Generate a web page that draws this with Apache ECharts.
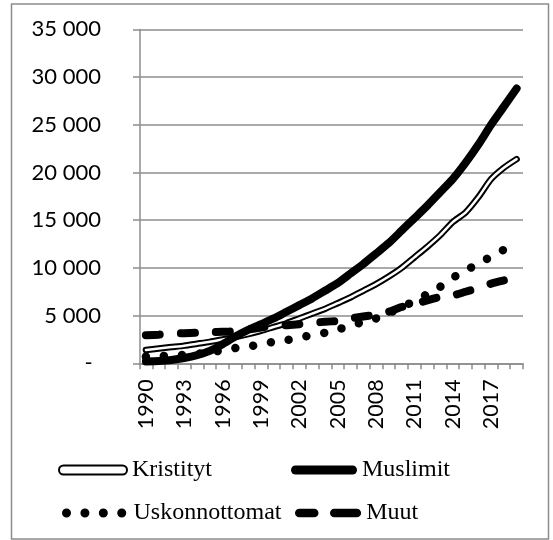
<!DOCTYPE html>
<html lang="fi">
<head>
    <meta charset="UTF-8">
    <title>Uskonnot</title>
    <script src="https://cdn.jsdelivr.net/npm/echarts@6/dist/echarts.min.js"></script>
    <style>
        html, body { margin: 0; padding: 0; background: #fff; }
        #main { width: 553px; height: 540px; }
    </style>
</head>
<body>
<div id="main"></div>
<script>
    // vuodet 1990-2019
    var years = ['1990', '1991', '1992', '1993', '1994', '1995', '1996', '1997', '1998', '1999',
        '2000', '2001', '2002', '2003', '2004', '2005', '2006', '2007', '2008', '2009',
        '2010', '2011', '2012', '2013', '2014', '2015', '2016', '2017', '2018', '2019'];

    var kristityt = [1400, 1550, 1700, 1850, 2050, 2250, 2500, 2750, 3050, 3400,
        3800, 4200, 4700, 5200, 5700, 6300, 6900, 7600, 8300, 9100,
        10000, 11100, 12200, 13400, 14800, 15800, 17400, 19300, 20500, 21400];

    var muslimit = [200, 250, 350, 550, 850, 1300, 2000, 2800, 3500, 4100,
        4700, 5400, 6100, 6800, 7600, 8400, 9400, 10400, 11500, 12600,
        13900, 15200, 16500, 17900, 19300, 21000, 22900, 25000, 26900, 28800];

    var uskonnottomat = [700, 750, 800, 900, 1000, 1100, 1400, 1600, 1750, 2000,
        2250, 2420, 2700, 2950, 3200, 3550, 3900, 4350, 4700, 5250,
        5900, 6500, 7250, 8000, 8950, 9750, 10400, 11200, 11900, 12400];

    var muut = [2950, 3000, 3100, 3150, 3200, 3250, 3300, 3350, 3550, 3750,
        3900, 4000, 4100, 4250, 4350, 4450, 4700, 4900, 5100, 5400,
        5900, 6200, 6600, 6950, 7100, 7500, 7900, 8350, 8700, 9100];

    var myChart = echarts.init(document.getElementById('main'));

    var legendText = { fontFamily: 'Liberation Serif', fontSize: 24, color: '#000' };

    // 35000 -> "35 000", 0 -> "-"
    function fmt(v) {
        if (v === 0) return '-\u2009 ';
        return String(v).replace(/\B(?=(\d{3})+(?!\d))/g, ' ');
    }

    var option = {
        animation: false,
        backgroundColor: '#fff',
        graphic: [{
            type: 'rect',
            shape: { x: 11.5, y: 4, width: 537, height: 535 },
            style: { fill: 'none', stroke: '#8c8c8c', lineWidth: 1.5 },
            silent: true
        }],
        grid: { left: 139.5, right: 30, top: 29.4, bottom: 176.7 },
        legend: [
            {
                left: 53, top: 453, itemWidth: 68, itemHeight: 9, textStyle: legendText,
                symbolKeepAspect: false,
                data: [{
                    name: 'Kristityt',
                    icon: 'path://M4.5,0 H63.5 A4.5,4.5 0 0 1 63.5,9 H4.5 A4.5,4.5 0 0 1 4.5,0 Z',
                    itemStyle: { color: '#fff', borderColor: '#000', borderWidth: 2 }
                }]
            },
            {
                left: 286, top: 453, itemWidth: 66, itemHeight: 9, textStyle: legendText,
                symbolKeepAspect: false,
                data: [{
                    name: 'Muslimit',
                    icon: 'path://M4.5,0 H61.5 A4.5,4.5 0 0 1 61.5,9 H4.5 A4.5,4.5 0 0 1 4.5,0 Z',
                    itemStyle: { color: '#000' }
                }]
            },
            {
                left: 57, top: 496, itemWidth: 62, itemHeight: 9,
                textStyle: legendText,
                data: ['Uskonnottomat'],
                itemStyle: { opacity: 0 },
                lineStyle: { width: 9, type: [0.01, 18.4], cap: 'round', color: '#000' }
            },
            {
                left: 290, top: 496, itemWidth: 62, itemHeight: 9, textStyle: legendText,
                data: ['Muut'],
                itemStyle: { opacity: 0 },
                lineStyle: { width: 8.5, type: [15, 20, 22.6, 100], cap: 'round', color: '#000' }
            }
        ],
        xAxis: {
            type: 'category',
            data: years,
            boundaryGap: true,
            axisLine: { lineStyle: { color: '#8c8c8c', width: 1.5 } },
            axisTick: { show: true, interval: 0, length: 6, lineStyle: { color: '#8c8c8c', width: 1.5 } },
            axisLabel: {
                interval: 2,
                rotate: 90,
                margin: 16,
                color: '#000',
                fontFamily: 'Lato',
                fontSize: 21.5
            }
        },
        yAxis: {
            type: 'value',
            min: 0,
            max: 35000,
            interval: 5000,
            axisLine: { show: true, lineStyle: { color: '#8c8c8c', width: 1.5 } },
            axisTick: { show: true, length: 6.5, lineStyle: { color: '#8c8c8c', width: 1.5 } },
            splitLine: { lineStyle: { color: '#8c8c8c', width: 1.5 } },
            axisLabel: {
                margin: 38.5,
                color: '#000',
                fontFamily: 'Lato',
                fontSize: 22,
                formatter: fmt
            }
        },
        series: [
            {
                name: 'Kristityt',
                type: 'line',
                data: kristityt,
                symbol: 'none',
                smooth: 0.2,
                z: 2,
                lineStyle: { color: '#000', width: 6.5, cap: 'round' }
            },
            {
                name: 'Kristityt',
                type: 'line',
                data: kristityt,
                symbol: 'none',
                smooth: 0.2,
                z: 3,
                lineStyle: { color: '#fff', width: 2.5, cap: 'round' }
            },
            {
                name: 'Muslimit',
                type: 'line',
                data: muslimit,
                symbol: 'none',
                smooth: 0.2,
                z: 4,
                lineStyle: { color: '#000', width: 8, cap: 'round' }
            },
            {
                name: 'Uskonnottomat',
                type: 'line',
                data: uskonnottomat,
                symbol: 'none',
                smooth: 0.2,
                z: 5,
                lineStyle: { color: '#000', width: 8.5, type: [0.01, 18], cap: 'round' }
            },
            {
                name: 'Muut',
                type: 'line',
                data: muut,
                symbol: 'none',
                smooth: 0.2,
                z: 6,
                lineStyle: { color: '#000', width: 8, type: [14, 21], cap: 'round' }
            }
        ]
    };
    myChart.setOption(option);
</script>
</body>
</html>
